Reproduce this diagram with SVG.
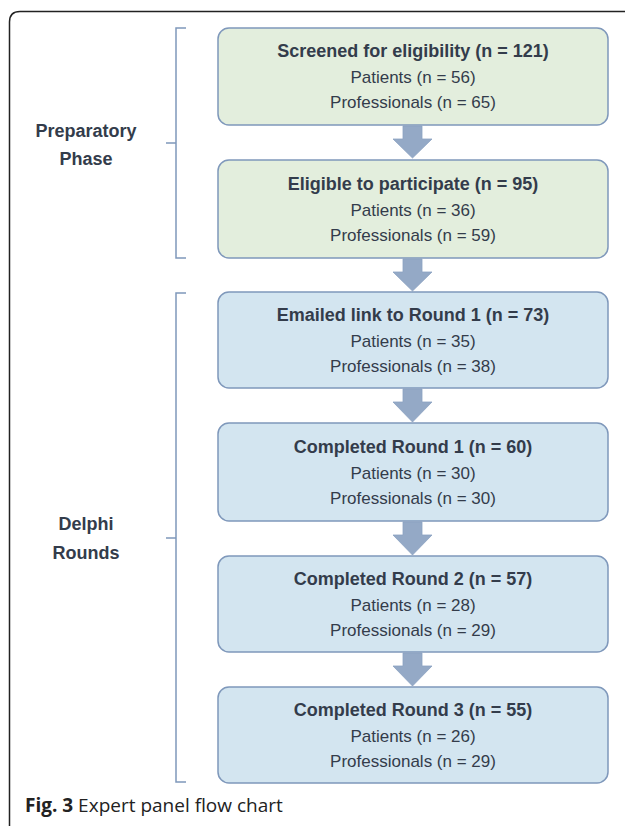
<svg xmlns="http://www.w3.org/2000/svg" width="625" height="826" viewBox="0 0 625 826">
<style>
.box{stroke:#7f98bb;stroke-width:1.5}
.g{fill:#e3eedd}
.b{fill:#d3e5f0}
.t{font-family:"Liberation Sans",Arial,sans-serif;fill:#333c4b;text-anchor:middle}
.h{font-size:18px;font-weight:bold}
.s{font-size:17px}
.br{fill:none;stroke:#7f98bb;stroke-width:1.5}
.ar{fill:#94a9c6;stroke:#8ba2c2;stroke-width:0.8}
.cap{font-family:"Open Sans","Liberation Sans",sans-serif;font-size:19px;fill:#222}
</style>
<rect width="625" height="826" fill="#fff"/>
<path d="M9.5 826 V22 Q9.5 11.5 20 11.5 H625" fill="none" stroke="#222" stroke-width="1.5"/>
<g id="labels">
<text class="t h" x="86" y="137">Preparatory</text>
<text class="t h" x="86" y="165">Phase</text>
<text class="t h" x="86" y="530">Delphi</text>
<text class="t h" x="86" y="559">Rounds</text>
</g>
<g id="brackets">
<path class="br" d="M186 28 H176 V258 H186 M176 143 H166"/>
<path class="br" d="M186 293 H176 V782 H186 M176 538 H166"/>
</g>
<g id="connectors">
<path class="ar" d="M403 126 H422 V139 H432 L412.5 158 L393 139 H403 Z"/>
<path class="ar" d="M403 259 H422 V272 H432 L412.5 291 L393 272 H403 Z"/>
<path class="ar" d="M403 389 H422 V402 H432 L412.5 422 L393 402 H403 Z"/>
<path class="ar" d="M403 522 H422 V535 H432 L412.5 555 L393 535 H403 Z"/>
<path class="ar" d="M403 653 H422 V666 H432 L412.5 686 L393 666 H403 Z"/>
</g>
<g id="n1">
<rect class="box g" x="218" y="28" width="390" height="97" rx="11"/>
<text class="t h" x="413" y="57">Screened for eligibility (n = 121)</text>
<text class="t s" x="413" y="83">Patients (n = 56)</text>
<text class="t s" x="413" y="108">Professionals (n = 65)</text>
</g>
<g id="n2">
<rect class="box g" x="218" y="160" width="390" height="98" rx="11"/>
<text class="t h" x="413" y="190">Eligible to participate (n = 95)</text>
<text class="t s" x="413" y="216">Patients (n = 36)</text>
<text class="t s" x="413" y="241">Professionals (n = 59)</text>
</g>
<g id="n3">
<rect class="box b" x="218" y="292" width="390" height="96" rx="11"/>
<text class="t h" x="413" y="321">Emailed link to Round 1 (n = 73)</text>
<text class="t s" x="413" y="347">Patients (n = 35)</text>
<text class="t s" x="413" y="372">Professionals (n = 38)</text>
</g>
<g id="n4">
<rect class="box b" x="218" y="423" width="390" height="98" rx="11"/>
<text class="t h" x="413" y="453">Completed Round 1 (n = 60)</text>
<text class="t s" x="413" y="479">Patients (n = 30)</text>
<text class="t s" x="413" y="504">Professionals (n = 30)</text>
</g>
<g id="n5">
<rect class="box b" x="218" y="556" width="390" height="96" rx="11"/>
<text class="t h" x="413" y="585">Completed Round 2 (n = 57)</text>
<text class="t s" x="413" y="611">Patients (n = 28)</text>
<text class="t s" x="413" y="636">Professionals (n = 29)</text>
</g>
<g id="n6">
<rect class="box b" x="218" y="687" width="390" height="96" rx="11"/>
<text class="t h" x="413" y="716">Completed Round 3 (n = 55)</text>
<text class="t s" x="413" y="742">Patients (n = 26)</text>
<text class="t s" x="413" y="767">Professionals (n = 29)</text>
</g>
<text class="cap" x="25" y="812"><tspan font-weight="bold">Fig. 3</tspan> Expert panel flow chart</text>
</svg>
